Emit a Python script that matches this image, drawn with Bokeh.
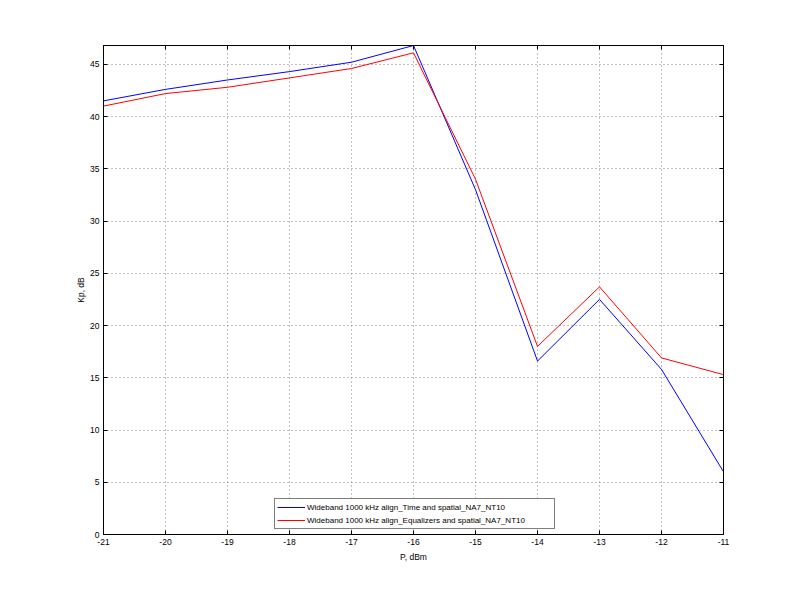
from bokeh.plotting import figure
from bokeh.models import Range1d, LinearAxis, Legend, LegendItem, FixedTicker, PrintfTickFormatter
from bokeh.embed import file_html
from bokeh.resources import INLINE

p_dbm = [-21, -20, -19, -18, -17, -16, -15, -14, -13, -12, -11]
kp_time = [41.5, 42.6, 43.5, 44.3, 45.2, 46.8, 33.0, 16.6, 22.5, 15.8, 6.0]
kp_eq = [41.0, 42.2, 42.8, 43.7, 44.6, 46.1, 34.0, 18.0, 23.7, 16.9, 15.3]
label_time = "Wideband 1000 kHz align_Time and spatial_NA7_NT10"
label_eq = "Wideband 1000 kHz align_Equalizers and spatial_NA7_NT10"
x_ticks = list(range(-21, -10))
y_ticks = [0, 5, 10, 15, 20, 25, 30, 35, 40, 45]

FONT = "Liberation Sans"
FS = "8.5px"

p = figure(width=783, height=584, output_backend="svg", toolbar_location=None,
           x_range=Range1d(-21, -11), y_range=Range1d(0, 46.8),
           min_border_left=103, min_border_right=60, min_border_top=45, min_border_bottom=50,
           x_axis_label="P, dBm", y_axis_label="Kp, dB")
p.outline_line_color = "#000000"
p.outline_line_width = 1
p.background_fill_color = "white"
p.border_fill_color = "white"

r1 = p.line(p_dbm, kp_time, line_color="#0000ff", line_width=1)
r2 = p.line(p_dbm, kp_eq, line_color="#ff0000", line_width=1)

for ax in p.xaxis + p.yaxis:
    ax.major_tick_in = 4
    ax.major_tick_out = 0
    ax.minor_tick_in = 0
    ax.minor_tick_out = 0
    ax.axis_line_color = "#000000"
    ax.major_tick_line_color = "#000000"
    ax.major_label_text_font = FONT
    ax.major_label_text_font_size = FS
    ax.major_label_text_color = "#000000"
    ax.axis_label_text_font = FONT
    ax.axis_label_text_font_size = FS
    ax.axis_label_text_font_style = "normal"
    ax.axis_label_text_color = "#000000"
    ax.major_label_standoff = 4
    ax.formatter = PrintfTickFormatter(format="%d")
p.xaxis.ticker = FixedTicker(ticks=x_ticks)
p.yaxis.ticker = FixedTicker(ticks=y_ticks)
p.xaxis.axis_label_standoff = 4
p.yaxis.axis_label_standoff = 1

for side, ticks in (("above", x_ticks), ("right", y_ticks)):
    ax = LinearAxis(ticker=FixedTicker(ticks=ticks))
    ax.major_tick_in = 4
    ax.major_tick_out = 0
    ax.minor_tick_in = 0
    ax.minor_tick_out = 0
    ax.major_label_text_color = None
    ax.major_label_text_font_size = "1px"
    ax.axis_line_color = "#000000"
    ax.major_tick_line_color = "#000000"
    p.add_layout(ax, side)

for g in (p.xgrid, p.ygrid):
    g.grid_line_color = "#808080"
    g.grid_line_dash = "1 3"
    g.grid_line_width = 1
p.xgrid.ticker = FixedTicker(ticks=x_ticks)
p.ygrid.ticker = FixedTicker(ticks=y_ticks)

legend = Legend(items=[LegendItem(label=label_time, renderers=[r1]),
                       LegendItem(label=label_eq, renderers=[r2])],
                location=(171, 5))
legend.label_text_font = FONT
legend.label_text_font_size = "8px"
legend.label_text_color = "#000000"
legend.glyph_width = 28
legend.glyph_height = 12
legend.label_height = 12
legend.label_width = 245
legend.label_standoff = 2
legend.spacing = 1
legend.padding = 2
legend.margin = 0
legend.border_line_color = "#000000"
legend.border_line_width = 1
legend.background_fill_color = "white"
legend.background_fill_alpha = 1
p.add_layout(legend, "center")

open("out.html", "w").write(file_html(p, INLINE))
